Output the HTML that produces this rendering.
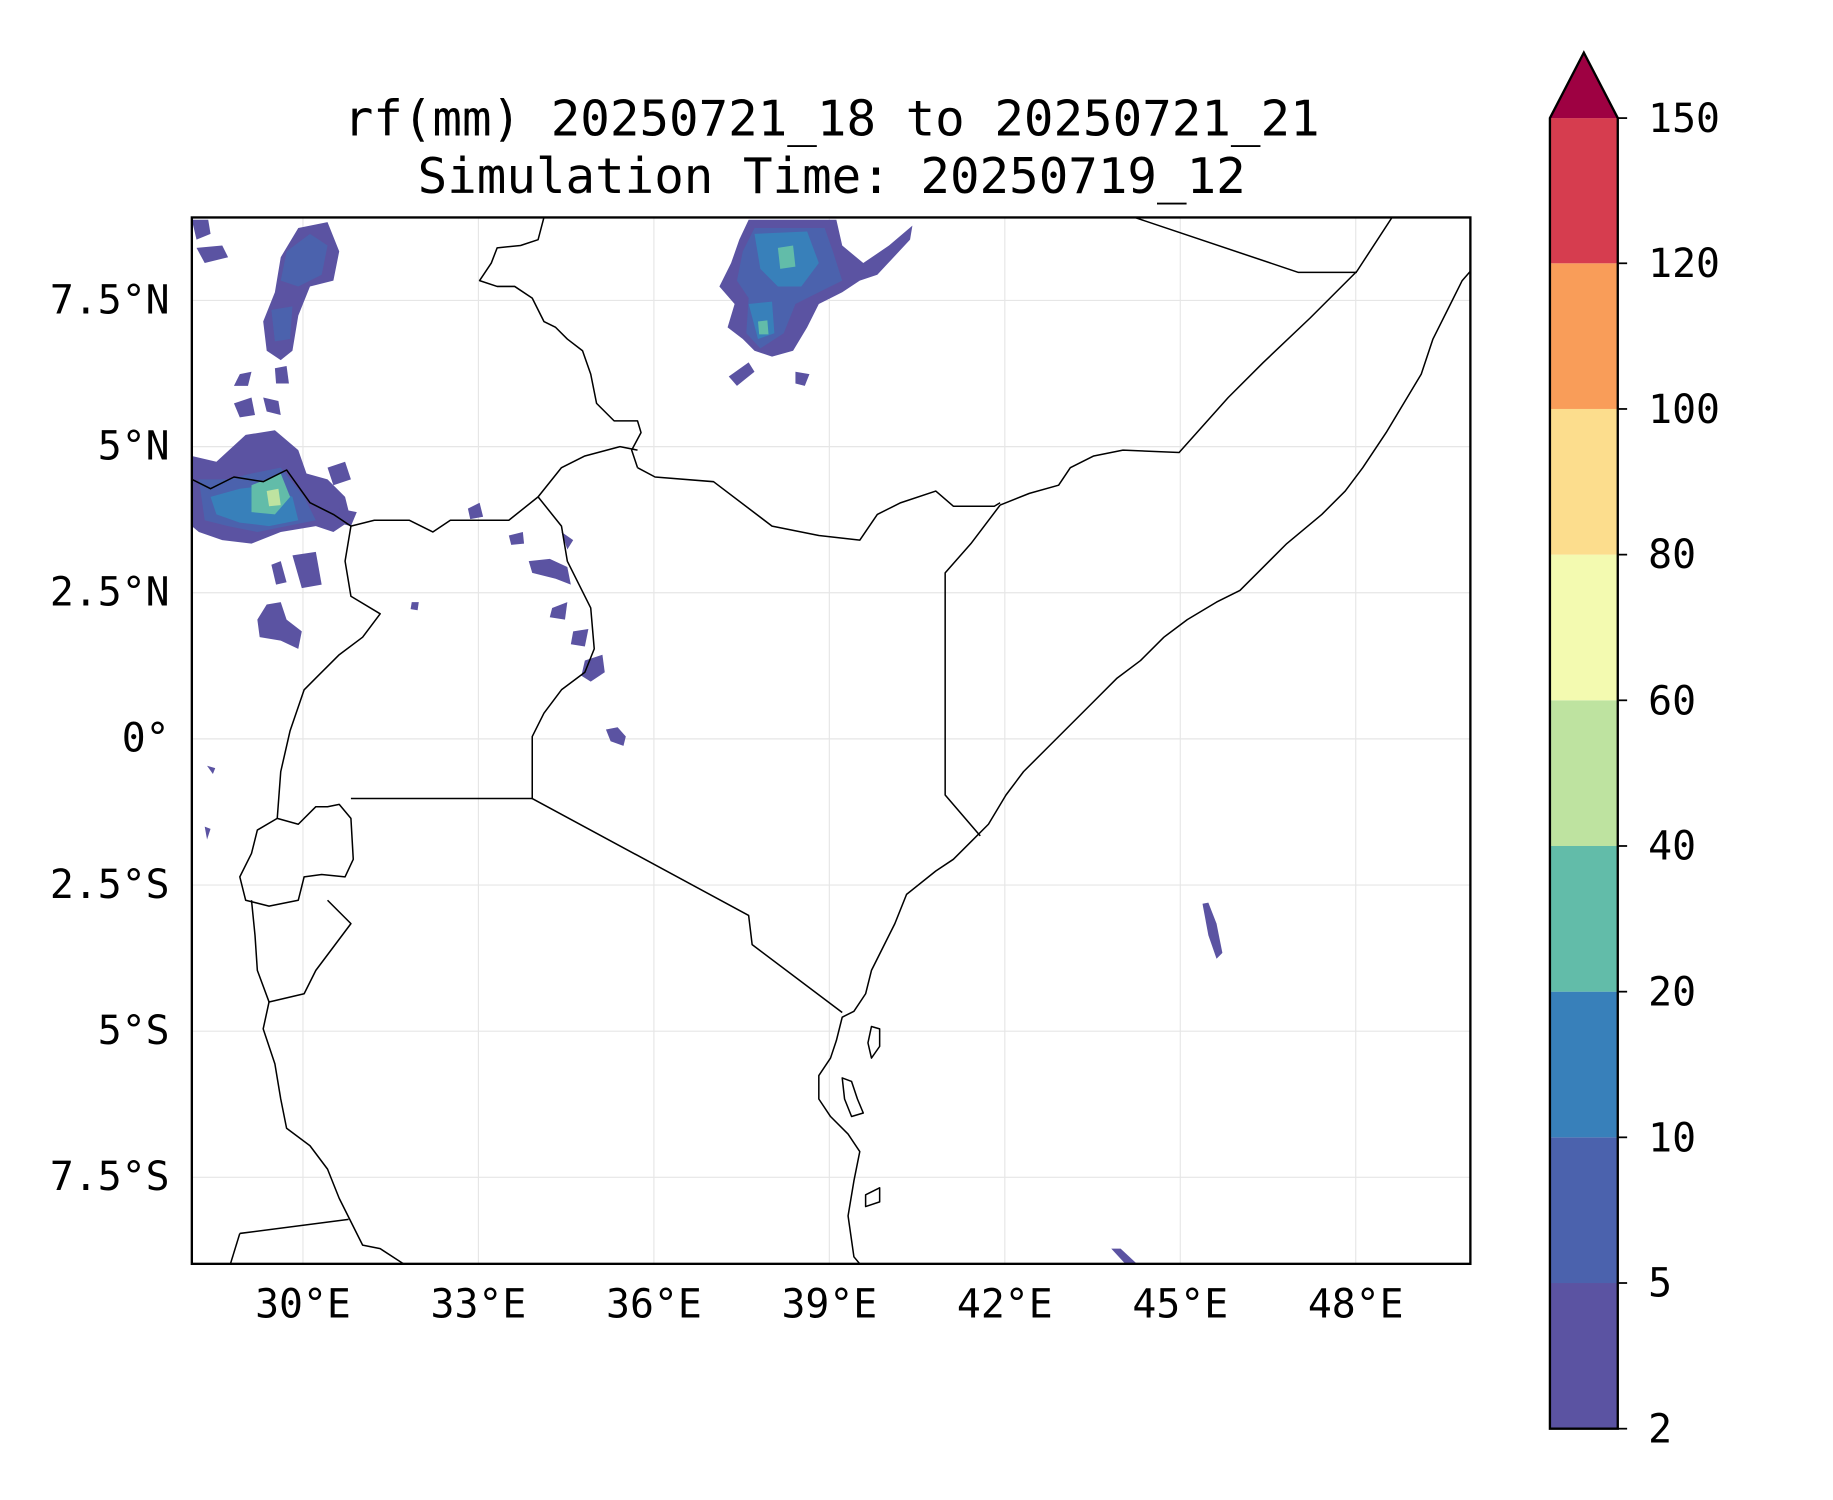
<!DOCTYPE html>
<html><head><meta charset="utf-8"><style>html,body{margin:0;padding:0;background:#fff}svg{display:block}</style></head>
<body>
<svg width="1833" height="1500" viewBox="0 0 1567 1283" preserveAspectRatio="none" xmlns="http://www.w3.org/2000/svg" font-family="'DejaVu Sans Mono','Liberation Mono',monospace">
<rect width="1567" height="1283" fill="#fff"/>
<text x="711" y="116" font-size="42" text-anchor="middle">rf(mm) 20250721_18 to 20250721_21</text>
<text x="711" y="165" font-size="42" text-anchor="middle">Simulation Time: 20250719_12</text>
<defs><clipPath id="c"><rect x="164" y="186" width="1093" height="895"/></clipPath></defs>
<g clip-path="url(#c)">
<g stroke="#e6e6e6" stroke-width="1">
<line x1="259" y1="186" x2="259" y2="1081"/><line x1="409" y1="186" x2="409" y2="1081"/><line x1="559" y1="186" x2="559" y2="1081"/><line x1="709" y1="186" x2="709" y2="1081"/><line x1="859" y1="186" x2="859" y2="1081"/><line x1="1009" y1="186" x2="1009" y2="1081"/><line x1="1159" y1="186" x2="1159" y2="1081"/>
<line x1="164" y1="257" x2="1257" y2="257"/><line x1="164" y1="382" x2="1257" y2="382"/><line x1="164" y1="507" x2="1257" y2="507"/><line x1="164" y1="632" x2="1257" y2="632"/><line x1="164" y1="757" x2="1257" y2="757"/><line x1="164" y1="882" x2="1257" y2="882"/><line x1="164" y1="1007" x2="1257" y2="1007"/>
</g>
<g fill="#5b53a2">
<path d="M164,390 L185,395 L210,372 L235,368 L255,385 L262,405 L280,410 L295,425 L300,445 L285,455 L270,450 L240,455 L215,465 L190,462 L170,455 L164,450Z"/>
<path d="M240,220 L255,195 L280,190 L290,215 L285,240 L265,245 L255,270 L250,300 L240,308 L228,300 L225,275 L235,250Z"/>
<path d="M164,188 L178,188 L180,200 L168,205Z"/><path d="M168,212 L190,210 L195,220 L175,225Z"/>
<path d="M205,320 L215,318 L212,330 L200,330Z"/><path d="M235,315 L245,313 L247,328 L236,328Z"/>
<path d="M200,345 L215,340 L218,355 L205,357Z"/><path d="M225,340 L238,343 L240,355 L228,352Z"/>
<path d="M250,475 L270,472 L275,500 L258,503Z"/><path d="M232,483 L240,480 L245,498 L236,500Z"/>
<path d="M228,517 L240,515 L245,530 L258,540 L255,555 L240,548 L222,545 L220,530Z"/>
<path d="M280,400 L295,395 L300,410 L285,415Z"/><path d="M290,435 L305,438 L300,450 L288,447Z"/>
<path d="M400,435 L410,430 L413,442 L402,444Z"/><path d="M435,458 L447,455 L448,465 L437,466Z"/>
<path d="M452,480 L470,478 L485,485 L488,500 L475,495 L455,490Z"/><path d="M472,520 L485,515 L483,530 L470,528Z"/>
<path d="M490,540 L503,538 L500,553 L488,551Z"/><path d="M500,565 L515,560 L517,575 L505,583 L497,578Z"/>
<path d="M518,624 L528,622 L535,630 L533,638 L522,634Z"/><path d="M480,455 L490,462 L485,470Z"/>
<path d="M352,515 L358,515 L357,522 L351,521Z"/>
<path d="M640,188 L715,188 L720,210 L738,225 L760,210 L780,193 L778,205 L750,235 L735,240 L720,250 L700,260 L690,280 L678,300 L660,305 L645,300 L635,290 L622,280 L628,260 L615,245 L625,225 L632,205Z"/>
<path d="M623,322 L640,310 L645,318 L630,330Z"/><path d="M680,318 L692,320 L688,330 L680,328Z"/>
<path d="M1028,773 L1033,772 L1040,790 L1045,815 L1040,820 L1033,800Z"/>
<path d="M950,1068 L958,1068 L972,1081 L962,1081Z"/>
<path d="M177,655 L184,657 L182,662Z"/><path d="M175,707 L180,709 L177,718Z"/>
</g>
<g fill="#4b62ad">
<path d="M170,410 L195,410 L215,405 L240,400 L260,425 L270,445 L245,450 L220,455 L195,450 L175,445Z"/>
<path d="M245,215 L265,200 L280,210 L275,235 L255,245 L240,240Z"/><path d="M232,265 L250,262 L248,290 L235,292Z"/>
<path d="M645,195 L705,195 L712,215 L720,240 L700,250 L680,260 L670,285 L650,298 L638,285 L640,255 L630,240 L635,215Z"/>
</g>
<g fill="#3880ba"><path d="M180,425 L205,418 L230,415 L250,425 L255,445 L230,450 L205,447 L185,440Z"/><path d="M645,200 L690,198 L700,225 L685,245 L665,245 L650,230Z"/><path d="M640,260 L660,258 L662,285 L648,290Z"/></g>
<g fill="#62bca9"><path d="M215,415 L240,405 L248,425 L235,440 L215,438Z"/><path d="M665,212 L678,210 L680,228 L667,230Z"/><path d="M648,275 L656,274 L657,286 L649,286Z"/></g>
<g fill="#bee3a0"><path d="M228,420 L238,418 L240,432 L230,433Z"/></g>
<g fill="none" stroke="#000" stroke-width="1.3" stroke-linejoin="round">
<path d="M1257,232 L1250,240 L1240,260 L1225,290 L1215,320 L1200,345 L1185,370 L1165,400 L1150,420 L1130,440 L1100,465 L1080,485 L1060,505 L1040,515 L1015,530 L995,545 L975,565 L955,580 L935,600 L915,620 L895,640 L875,660 L860,680 L845,705 L830,720 L815,735 L800,745 L775,765 L765,790 L755,810 L745,830 L740,850 L730,865 L720,870 L715,890 L710,905 L700,920 L700,940 L710,955 L725,970 L735,985 L730,1010 L725,1040 L730,1075 L735,1081"/>
<path d="M745,878 L752,880 L752,895 L745,905 L742,892Z"/><path d="M720,922 L728,925 L733,940 L738,952 L728,955 L722,940Z"/><path d="M740,1022 L752,1016 L752,1028 L740,1032Z"/>
<path d="M460,425 L480,450 L485,480 L495,500 L505,520 L508,555 L500,575 L480,590 L465,610 L455,630 L455,683 L640,783 L643,808 L720,866"/>
<path d="M300,683 L455,683"/>
<path d="M300,450 L295,480 L300,510 L325,525 L310,545 L290,560 L270,580 L260,590 L248,625 L240,660 L237,700"/>
<path d="M237,700 L220,710 L215,730 L205,750 L210,770 L230,775 L255,770 L260,750 L275,748 L295,750 L302,735 L300,700 L290,688 L280,690 L270,690 L255,705 L237,700"/>
<path d="M280,770 L300,790 L285,810 L270,830 L260,850 L230,857 L220,830 L218,800 L215,770"/>
<path d="M230,857 L225,880 L235,910 L240,940 L245,965 L265,980 L280,1000 L290,1025 L300,1045 L310,1065 L325,1068 L345,1081"/>
<path d="M205,1055 L298,1043"/><path d="M197,1081 L205,1055"/>
<path d="M300,450 L320,445 L350,445 L370,455 L385,445 L410,445 L435,445 L460,425 L480,400 L500,390 L530,382 L545,385"/>
<path d="M545,400 L540,385 L548,370 L545,360 L525,360 L510,345 L505,320 L498,300 L485,290 L475,280 L465,275 L455,255 L440,245 L425,245 L410,240 L420,225 L425,212 L445,210 L460,205 L465,186"/>
<path d="M545,400 L560,408 L610,412 L660,450 L700,458 L735,462 L750,440 L770,430 L800,420 L815,433 L850,433 L855,430"/>
<path d="M855,432 L830,465 L808,490 L808,680 L838,715"/>
<path d="M855,432 L880,422 L905,415 L915,400 L935,390 L960,385 L1008,387 L1050,340 L1080,310 L1120,272 L1160,232 L1190,186"/>
<path d="M970,186 L1110,233 L1160,233"/>
<path d="M164,410 L180,418 L200,408 L225,412 L245,402 L265,430 L285,440 L300,450"/>
</g>
</g>
<rect x="164" y="186" width="1093" height="895" fill="none" stroke="#000" stroke-width="2"/>
<g font-size="34" fill="#000">
<g text-anchor="end"><text x="145" y="268">7.5°N</text><text x="145" y="393">5°N</text><text x="145" y="518">2.5°N</text><text x="145" y="643">0°</text><text x="145" y="768">2.5°S</text><text x="145" y="893">5°S</text><text x="145" y="1018">7.5°S</text></g>
<g text-anchor="middle"><text x="259" y="1127">30°E</text><text x="409" y="1127">33°E</text><text x="559" y="1127">36°E</text><text x="709" y="1127">39°E</text><text x="859" y="1127">42°E</text><text x="1009" y="1127">45°E</text><text x="1159" y="1127">48°E</text></g>
</g>
<g>
<rect x="1325" y="1097.4" width="58" height="124.6" fill="#5b53a2"/>
<rect x="1325" y="972.8" width="58" height="124.6" fill="#4b62ad"/>
<rect x="1325" y="848.2" width="58" height="124.6" fill="#3880ba"/>
<rect x="1325" y="723.6" width="58" height="124.6" fill="#62bca9"/>
<rect x="1325" y="599" width="58" height="124.6" fill="#bee3a0"/>
<rect x="1325" y="474.4" width="58" height="124.6" fill="#f3fab0"/>
<rect x="1325" y="349.8" width="58" height="124.6" fill="#fcdd8d"/>
<rect x="1325" y="225.2" width="58" height="124.6" fill="#f99d59"/>
<rect x="1325" y="101" width="58" height="124.2" fill="#d63d4f"/>
<path d="M1325,101 L1354,45 L1383,101 Z" fill="#9e0142"/>
<path d="M1325,101 L1354,45 L1383,101 L1383,1222 L1325,1222 Z" fill="none" stroke="#000" stroke-width="2"/>
<g stroke="#000" stroke-width="1.5"><line x1="1383" y1="101" x2="1391" y2="101"/><line x1="1383" y1="225.2" x2="1391" y2="225.2"/><line x1="1383" y1="349.8" x2="1391" y2="349.8"/><line x1="1383" y1="474.4" x2="1391" y2="474.4"/><line x1="1383" y1="599" x2="1391" y2="599"/><line x1="1383" y1="723.6" x2="1391" y2="723.6"/><line x1="1383" y1="848.2" x2="1391" y2="848.2"/><line x1="1383" y1="972.8" x2="1391" y2="972.8"/><line x1="1383" y1="1097.4" x2="1391" y2="1097.4"/><line x1="1383" y1="1222" x2="1391" y2="1222"/></g>
<g font-size="34"><text x="1409" y="113">150</text><text x="1409" y="237">120</text><text x="1409" y="362">100</text><text x="1409" y="486">80</text><text x="1409" y="611">60</text><text x="1409" y="735">40</text><text x="1409" y="860">20</text><text x="1409" y="985">10</text><text x="1409" y="1109">5</text><text x="1409" y="1234">2</text></g>
</g>
</svg>
</body></html>
